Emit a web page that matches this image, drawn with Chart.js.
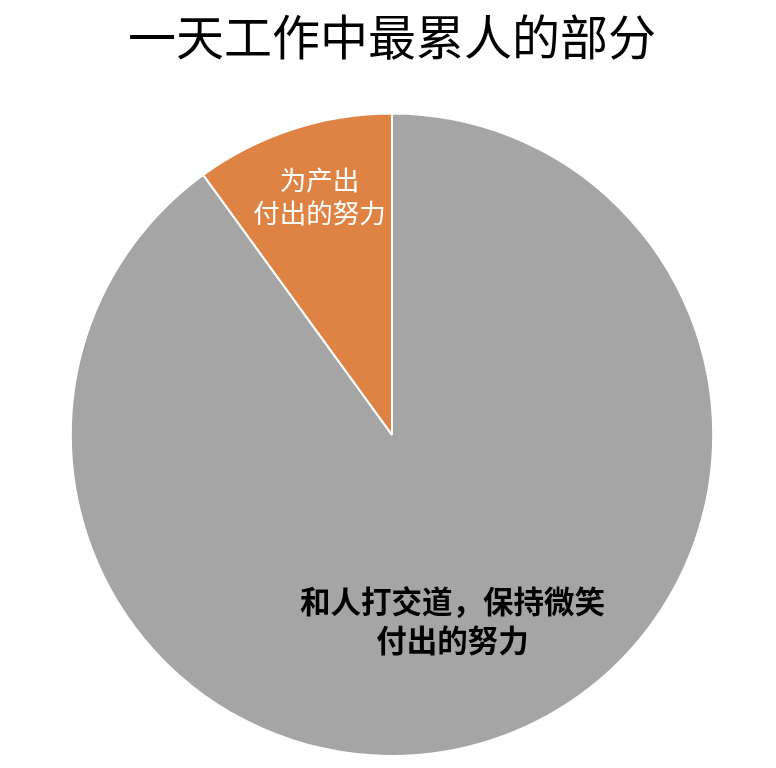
<!DOCTYPE html>
<html>
<head>
<meta charset="utf-8">
<script src="https://cdn.jsdelivr.net/npm/chart.js@4/dist/chart.umd.min.js"></script>
<style>
  html, body { margin: 0; padding: 0; background: #fff; }
  #wrap { width: 776px; height: 768px; }
</style>
</head>
<body>
<div id="wrap"><canvas id="chart" width="776" height="768"></canvas></div>
<script>
const chartTitle = '一天工作中最累人的部分';
const categories = ['和人打交道，保持微笑\n付出的努力', '为产出\n付出的努力'];
const values = [90, 10];
const sliceColors = ['#A5A5A5', '#DF8344'];

// draws the in-slice labels (no datalabels plugin available offline)
const sliceLabels = {
  id: 'sliceLabels',
  afterDatasetsDraw(chart, args, opts) {
    const ctx = chart.ctx;
    const meta = chart.getDatasetMeta(0);
    meta.data.forEach((arc, i) => {
      const p = arc.getProps(['x', 'y', 'startAngle', 'endAngle', 'outerRadius']);
      const mid = (p.startAngle + p.endAngle) / 2;
      const d = p.outerRadius * opts.dist[i];
      const cx = p.x + Math.cos(mid) * d + opts.shiftX[i];
      const cy = p.y + Math.sin(mid) * d;
      const lines = chart.data.labels[i].split('\n');
      const st = opts.styles[i];
      ctx.save();
      ctx.font = st.font;
      ctx.fillStyle = st.color;
      ctx.textAlign = 'center';
      ctx.textBaseline = 'middle';
      const top = cy - (lines.length - 1) * st.lineH / 2;
      lines.forEach((t, k) => ctx.fillText(t, cx, top + k * st.lineH));
      ctx.restore();
    });
  }
};

new Chart(document.getElementById('chart'), {
  type: 'pie',
  data: {
    labels: categories,
    datasets: [{
      data: values,
      backgroundColor: sliceColors,
      borderColor: '#ffffff',
      borderWidth: 2
    }]
  },
  options: {
    responsive: false,
    animation: false,
    layout: { padding: { top: 0, bottom: 11, left: 12, right: 4 } },
    plugins: {
      legend: { display: false },
      tooltip: { enabled: false },
      title: {
        display: true,
        text: chartTitle,
        color: '#000',
        font: { family: '"Noto Sans CJK SC", sans-serif', size: 48, weight: 'normal' },
        padding: { top: 8, bottom: 47 }
      },
      sliceLabels: {
        dist: [0.61, 0.78],
        shiftX: [0, 5],
        styles: [
          { font: 'bold 30.5px "Noto Sans CJK SC", sans-serif', color: '#000', lineH: 39 },
          { font: '26.5px "Noto Sans CJK SC", sans-serif', color: '#fff', lineH: 33 }
        ]
      }
    }
  },
  plugins: [sliceLabels]
});
</script>
</body>
</html>
